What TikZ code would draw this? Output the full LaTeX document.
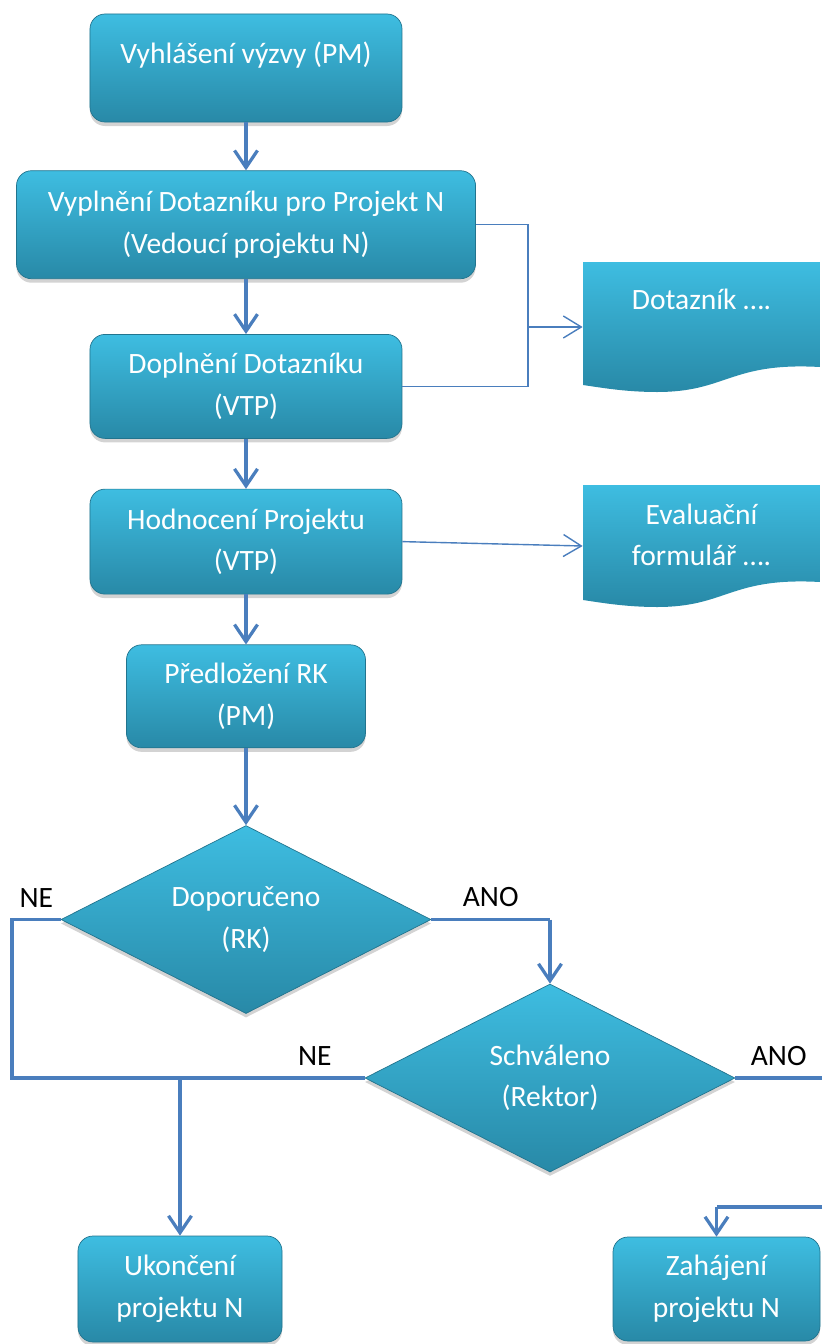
\documentclass[tikz,border=0pt]{standalone}
\usepackage{fontspec}
\setmainfont{Carlito}
\usetikzlibrary{positioning}
\usetikzlibrary{arrows.meta}
\usetikzlibrary{shapes.geometric}
\usetikzlibrary{shadows}
\definecolor{boxtop}{RGB}{62,189,225}
\definecolor{boxbottom}{RGB}{40,137,167}
\definecolor{linkblue}{RGB}{74,126,189}
\tikzset{	node distance=10mm,
	process/.style={
		rectangle, rounded corners=3mm,
		top color=boxtop, bottom color=boxbottom,
		draw=boxbottom!85!black, thin,
		text=white, align=center, inner sep=0pt,
		font=\fontsize{16.8}{23.6}\selectfont,
		drop shadow={opacity=0.35, shadow xshift=0pt, shadow yshift=-0.8mm}},
	decision/.style={
		process, diamond, rounded corners=0pt, aspect=2},
	document/.style={
		rectangle, inner sep=0pt, text=white, align=center,
		font=\fontsize{16.8}{23.6}\selectfont,
		path picture={
			\shade[top color=boxtop, bottom color=boxbottom]
				(path picture bounding box.north west) -- (path picture bounding box.north east)
				-- ([yshift=5mm]path picture bounding box.south east)
				.. controls +(-18mm,1mm) and +(14mm,0mm) .. ([xshift=14.8mm]path picture bounding box.south west)
				.. controls +(-6mm,0mm) and +(4mm,-0.6mm) .. ([yshift=1.4mm]path picture bounding box.south west)
				-- cycle;}},
	flowline/.style={draw, linkblue, line width=0.65mm},
	sideline/.style={draw, linkblue, line width=0.28mm},
	every edge/.style={
		flowline,
		-{Straight Barb[length=3.4mm, width=4.6mm]}},
	sidearrow/.style={
		sideline,
		-{Straight Barb[length=3.6mm, width=4.4mm]}},
	answer/.style={above=1mm, text=black, font=\fontsize{16.8}{23.6}\selectfont}
}
\begin{document}
\begin{tikzpicture}[x=0.2mm, y=-0.2mm]
	\useasboundingbox (0,0) rectangle (822,1344);
	% main column
	\node[process, minimum width=62.4mm, minimum height=21.6mm, text height=3.8mm, text depth=5.4mm] (b1) at (246,68) {Vyhlášení výzvy (PM)};
	\node[process, minimum width=91.8mm, minimum height=21.6mm, below=9.6mm of b1] (b2) {Vyplnění Dotazníku pro Projekt N\\(Vedoucí projektu N)};
	\node[process, minimum width=62.4mm, minimum height=20.8mm, below=11mm of b2] (b3) {Doplnění Dotazníku\\(VTP)};
	\node[process, minimum width=62.4mm, minimum height=21mm, below=of b3] (b4) {Hodnocení Projektu\\(VTP)};
	\node[process, minimum width=47.8mm, minimum height=20.6mm, below=of b4] (b5) {Předložení RK\\(PM)};
	\node[decision, minimum width=74mm, minimum height=37.6mm, below=15.4mm of b5] (d1) {Doporučeno\\(RK)};
	\node[decision, minimum width=74mm, minimum height=37.6mm] (d2) at (550,1078) {Schváleno\\(Rektor)};
	\node[process, minimum width=40.8mm, minimum height=21.2mm] (b6) at (180,1289) {Ukončení\\projektu N};
	\node[process, minimum width=41.4mm, minimum height=20.8mm] (b7) at (716.5,1289) {Zahájení\\projektu N};
	% documents
	\node[document, minimum width=47.4mm, minimum height=26mm, text height=3.8mm, text depth=11mm] (doc1) at (701.5,327) {Dotazník ….};
	\node[document, minimum width=47.4mm, minimum height=24.4mm] (doc2) at (701.5,546) {Evaluační\\formulář ….\\[-3.8mm]\mbox{}};
	\coordinate (br) at (528,327);
	\coordinate (ne1) at (12,0 |- d1.west);
	\coordinate (ne2) at (b6.north |- d2.west);
	\coordinate (ano1) at (d1.east -| d2.north);
	\coordinate (anoout) at (822,1078);
	\coordinate (zin) at (822,1207);
	\coordinate (zturn) at (zin -| b7.north);

	\draw (b1) edge (b2);
	\draw (b2) edge (b3);
	\draw (b3) edge (b4);
	\draw (b4) edge (b5);
	\draw (b5) edge (d1);
	\draw[sideline] (b2.east) -| (br) |- (b3.east);
	\draw[sidearrow] (br) -- (doc1.west);
	\draw[sidearrow] (b4.east) -- (doc2.west);
	\draw[flowline] (d1.west) -- node[answer] {NE} (ne1) |- (d2.west);
	\draw[flowline] (d2.west) -- node[answer, pos=0.27] {NE} (ne2);
	\draw (ne2) edge (b6.north);
	\draw[flowline] (d1.east) -- node[answer] {ANO} (ano1);
	\draw (ano1) edge (d2.north);
	\draw[flowline] (d2.east) -- node[answer] {ANO} (anoout);
	\draw[flowline] (zin) -- (zturn);
	\draw (zturn) edge (b7.north);
\end{tikzpicture}
\end{document}
